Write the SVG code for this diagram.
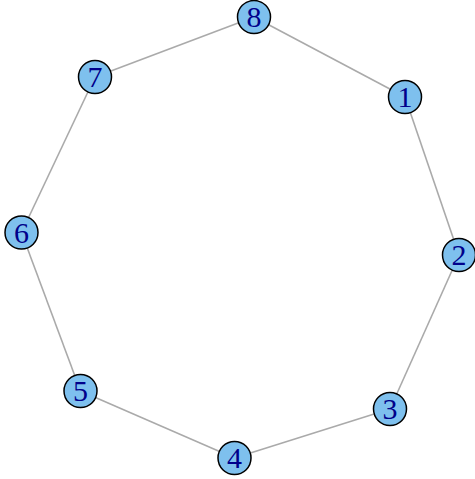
<svg xmlns="http://www.w3.org/2000/svg" width="475" height="479" viewBox="0 0 475 479">
<style>
.e{stroke:#aaaaaa;stroke-width:1.6;fill:none}
.n circle{fill:#7ec0ee;stroke:#000;stroke-width:1.5}
.n text{font-family:"Liberation Serif",serif;font-size:30px;fill:#00008b;text-anchor:middle}
</style>
<rect width="475" height="479" fill="#fff"/>
<g id="edges">
<line class="e" x1="254" y1="17" x2="405" y2="97"/>
<line class="e" x1="405" y1="97" x2="459" y2="255"/>
<line class="e" x1="459" y1="255" x2="390" y2="409"/>
<line class="e" x1="390" y1="409" x2="234.5" y2="458"/>
<line class="e" x1="234.5" y1="458" x2="80.5" y2="391"/>
<line class="e" x1="80.5" y1="391" x2="21.5" y2="232.5"/>
<line class="e" x1="21.5" y1="232.5" x2="95" y2="77"/>
<line class="e" x1="95" y1="77" x2="254" y2="17"/>
</g>
<g id="n1" class="n"><circle cx="405" cy="97" r="16.5"/><text x="405" y="107">1</text></g>
<g id="n2" class="n"><circle cx="459" cy="255" r="16.5"/><text x="459" y="265">2</text></g>
<g id="n3" class="n"><circle cx="390" cy="409" r="16.5"/><text x="390" y="419">3</text></g>
<g id="n4" class="n"><circle cx="234.5" cy="458" r="16.5"/><text x="234.5" y="468">4</text></g>
<g id="n5" class="n"><circle cx="80.5" cy="391" r="16.5"/><text x="80.5" y="401">5</text></g>
<g id="n6" class="n"><circle cx="21.5" cy="232.5" r="16.5"/><text x="21.5" y="242.5">6</text></g>
<g id="n7" class="n"><circle cx="95" cy="77" r="16.5"/><text x="95" y="87">7</text></g>
<g id="n8" class="n"><circle cx="254" cy="17" r="16.5"/><text x="254" y="27">8</text></g>
</svg>
